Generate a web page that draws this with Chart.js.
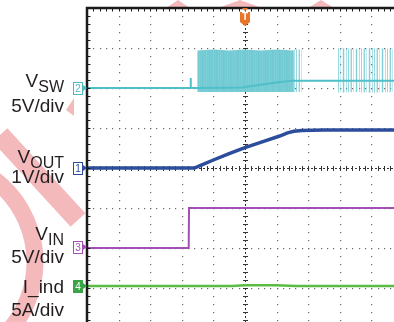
<!DOCTYPE html>
<html>
<head>
<meta charset="utf-8">
<script src="https://cdn.jsdelivr.net/npm/chart.js@4.4.1/dist/chart.umd.min.js"></script>
<style>
html, body { margin: 0; padding: 0; background: #fff; }
#wrap { position: relative; width: 394px; height: 322px; overflow: hidden; font-family: "Liberation Sans", Arial, sans-serif; }
#scope { position: absolute; left: 0; top: 0; }
.lbl { position: absolute; right: 330px; font-size: 19px; line-height: 19px; color: #231f20; white-space: nowrap; }
.lbl sub { font-size: 16px; vertical-align: baseline; position: relative; top: 5px; }
.ch { position: absolute; left: 73px; width: 8px; height: 11px; border: 1px solid currentColor; background: #fff;
      font-size: 10px; line-height: 11px; text-align: center; }
.ch::after { content: ''; position: absolute; left: 9px; top: 2px; border-left: 4px solid currentColor;
             border-top: 3.5px solid transparent; border-bottom: 3.5px solid transparent; }
.ch.fill { background: #3aa447; color: #fff; border-color: #3aa447; }
.ch.fill::after { border-left-color: #3aa447; }
#trig { position: absolute; left: 240px; top: 12px; width: 10px; height: 10px; background: #e8742a; color: #fff;
        font-size: 10px; font-weight: bold; line-height: 10px; text-align: center; }
#trig::after { content: ''; position: absolute; left: 0; top: 10px; border-top: 4px solid #e8742a;
               border-left: 5px solid transparent; border-right: 5px solid transparent; }
#trig::before { content: ''; position: absolute; left: 2px; top: -4px; border-top: 3px solid #e8742a;
                border-left: 3px solid transparent; border-right: 3px solid transparent; }
</style>
</head>
<body>
<div id="wrap">
  <canvas id="scope" width="394" height="322"></canvas>

  <div class="lbl" style="top:71px">V<sub>SW</sub></div>
  <div class="lbl" style="top:96px">5V/div</div>
  <div class="lbl" style="top:147px">V<sub>OUT</sub></div>
  <div class="lbl" style="top:167px">1V/div</div>
  <div class="lbl" style="top:224px">V<sub>IN</sub></div>
  <div class="lbl" style="top:247px">5V/div</div>
  <div class="lbl" style="top:277px">I_ind</div>
  <div class="lbl" style="top:300px">5A/div</div>

  <div class="ch" style="top:82px;color:#4fb8c2">2</div>
  <div class="ch" style="top:162px;color:#2c4c9c">1</div>
  <div class="ch" style="top:241px;color:#a24fb4">3</div>
  <div class="ch fill" style="top:280px">4</div>
  <div id="trig">T</div>
</div>

<script>
// time in screen divisions from the left edge, values in channel units
const vswTime = [0, 3.27, 3.28, 3.29, 3.5, 4.9, 5.5, 6.0, 6.5, 9.72];
const vswVolts = [0, 0, 1.25, 0, 0, 0.05, 0.4, 0.7, 0.9, 0.9];

const swDenseTime = [3.49, 4.0, 4.5, 5.0, 5.5, 6.0, 6.55];
const swDenseHigh = [4.7, 4.8, 4.7, 4.8, 4.7, 4.8, 4.7];
const swDenseLow = [-0.5, -0.5, -0.5, -0.5, -0.5, -0.5, -0.5];

const swTrailTime = [6.55, 6.85];
const swTrailHigh = [4.8, 4.8];
const swTrailLow = [-0.5, -0.5];

const swSparseTime = [7.95, 8.5, 9.0, 9.72];
const swSparseHigh = [5.0, 4.9, 5.0, 4.9];
const swSparseLow = [-0.6, -0.5, -0.6, -0.5];

const voutTime = [0, 3.4, 3.58, 4.0, 4.5, 5.0, 5.57, 6.1, 6.35, 6.55, 6.8, 7.5, 9.72];
const voutVolts = [0, 0, 0.06, 0.2, 0.36, 0.51, 0.66, 0.8, 0.88, 0.92, 0.94, 0.95, 0.95];

const vinTime = [0, 3.22, 3.23, 9.72];
const vinVolts = [0, 0, 5, 5];

const iindTime = [0, 4.6, 5.0, 6.0, 6.6, 9.72];
const iindAmps = [0, 0, 0.1, 0.1, 0, 0];

// channel offset (div) and units per div
const channels = {
  vsw: { offset: 2, perDiv: 5 },
  vout: { offset: 0, perDiv: 1 },
  vin: { offset: -2, perDiv: 5 },
  iind: { offset: -2.95, perDiv: 5 }
};

const toPoints = (t, v, ch) => t.map((tt, i) => ({ x: tt, y: ch.offset + v[i] / ch.perDiv }));

function stripes(cols) {
  const c = document.createElement('canvas');
  c.width = cols.length;
  c.height = 1;
  const g = c.getContext('2d');
  cols.forEach((col, i) => { g.fillStyle = col; g.fillRect(i, 0, 1, 1); });
  return g.createPattern(c, 'repeat');
}

const densePattern = stripes(['#74cbd4', '#79cdd5', '#72cad3', '#7fcfd7', '#74cbd4', '#77ccd5', '#70c9d2']);
const sparsePattern = stripes(['rgba(95,195,205,0.7)', 'rgba(0,0,0,0)', 'rgba(95,195,205,0.35)', 'rgba(0,0,0,0)',
  'rgba(95,195,205,0.15)', 'rgba(95,195,205,0.8)', 'rgba(95,195,205,0.2)', 'rgba(0,0,0,0)',
  'rgba(95,195,205,0.5)', 'rgba(0,0,0,0)', 'rgba(95,195,205,0.65)', 'rgba(0,0,0,0)', 'rgba(95,195,205,0.3)']);

function band(t, hi, lo, pattern, order) {
  return [
    { data: toPoints(t, hi, channels.vsw), borderWidth: 0, fill: '+1', backgroundColor: pattern, order: order },
    { data: toPoints(t, lo, channels.vsw), borderWidth: 0, fill: false, order: order }
  ];
}

const scopeGrid = {
  id: 'scopeGrid',
  beforeDraw(chart) {
    const ctx = chart.ctx, a = chart.chartArea;
    ctx.save();
    // faint watermark behind the screen
    ctx.fillStyle = ctx.strokeStyle = '#f4b9bb';
    ctx.lineWidth = 20;
    ctx.beginPath(); ctx.moveTo(0, 135); ctx.lineTo(78, 220); ctx.stroke();
    ctx.lineWidth = 17;
    ctx.beginPath(); ctx.arc(-69, 262, 104, -1.2, 1.2); ctx.stroke();
    ctx.beginPath(); ctx.moveTo(74, 98); ctx.lineTo(74, 116); ctx.lineTo(66, 110); ctx.closePath(); ctx.fill();
    [[166, 190], [218, 262], [308, 334]].forEach(([l, r]) => {
      ctx.beginPath(); ctx.moveTo(l, 8); ctx.lineTo((l + r) / 2, 0); ctx.lineTo(r, 8); ctx.closePath(); ctx.fill();
    });
    ctx.fillStyle = '#fff';
    ctx.fillRect(a.left, a.top, a.right - a.left, a.bottom - a.top);
    ctx.restore();
  },
  beforeDatasetsDraw(chart) {
    const { ctx, scales: { x, y } } = chart;
    ctx.save();
    ctx.fillStyle = '#6a6a6a';
    for (let gx = 1; gx <= 9; gx++) {
      if (gx === 5) continue;
      const px = Math.round(x.getPixelForValue(gx));
      for (let k = -20; k <= 20; k++) ctx.fillRect(px, Math.round(y.getPixelForValue(k / 5)), 1.2, 1.2);
    }
    for (let gy = -3; gy <= 3; gy++) {
      if (gy === 0) continue;
      const py = Math.round(y.getPixelForValue(gy));
      for (let k = 0; k <= 50; k++) ctx.fillRect(Math.round(x.getPixelForValue(k / 5)), py, 1.2, 1.2);
    }
    // centre cross
    const cx = Math.round(x.getPixelForValue(5)) + 0.5, cy = Math.round(y.getPixelForValue(0)) + 0.5;
    ctx.strokeStyle = '#333';
    ctx.lineWidth = 1;
    ctx.setLineDash([2, 2]);
    ctx.beginPath();
    ctx.moveTo(cx, chart.chartArea.top); ctx.lineTo(cx, chart.chartArea.bottom);
    ctx.moveTo(chart.chartArea.left, cy); ctx.lineTo(chart.chartArea.right, cy);
    ctx.stroke();
    ctx.setLineDash([]);
    ctx.beginPath();
    for (let k = -20; k <= 20; k++) {
      const py = Math.round(y.getPixelForValue(k / 5)) + 0.5;
      ctx.moveTo(cx - 2.5, py); ctx.lineTo(cx + 2.5, py);
    }
    for (let k = 0; k <= 50; k++) {
      const px = Math.round(x.getPixelForValue(k / 5)) + 0.5;
      ctx.moveTo(px, cy - 2.5); ctx.lineTo(px, cy + 2.5);
    }
    ctx.stroke();
    ctx.restore();
  },
  afterDatasetsDraw(chart) {
    const { ctx, chartArea: a, scales: { x, y } } = chart;
    ctx.save();
    ctx.strokeStyle = '#1a1a1a';
    ctx.lineWidth = 1;
    ctx.beginPath();
    for (let k = 1; k <= 50; k++) {
      const px = Math.round(x.getPixelForValue(k / 5)) + 0.5;
      ctx.moveTo(px, a.top); ctx.lineTo(px, a.top + 3.5);
    }
    for (let k = -20; k < 20; k++) {
      const py = Math.round(y.getPixelForValue(k / 5)) + 0.5;
      ctx.moveTo(a.left, py); ctx.lineTo(a.left + 3.5, py);
    }
    ctx.stroke();
    ctx.lineWidth = 2.5;
    ctx.beginPath();
    ctx.moveTo(a.left, a.bottom); ctx.lineTo(a.left, a.top); ctx.lineTo(a.right, a.top);
    ctx.stroke();
    ctx.restore();
  }
};

new Chart(document.getElementById('scope'), {
  type: 'line',
  data: {
    datasets: [
      { data: toPoints(voutTime, voutVolts, channels.vout), borderColor: '#2c4c9c', borderWidth: 3.5, order: 0 },
      { data: toPoints(vinTime, vinVolts, channels.vin), borderColor: '#a24fb4', borderWidth: 2, order: 1 },
      { data: toPoints(iindTime, iindAmps, channels.iind), borderColor: '#5cbb45', borderWidth: 2.5, order: 2 },
      { data: toPoints(vswTime, vswVolts, channels.vsw), borderColor: '#4fbfc9', borderWidth: 2, order: 3 },
      ...band(swDenseTime, swDenseHigh, swDenseLow, densePattern, 4),
      ...band(swTrailTime, swTrailHigh, swTrailLow, sparsePattern, 5),
      ...band(swSparseTime, swSparseHigh, swSparseLow, sparsePattern, 6)
    ]
  },
  options: {
    responsive: false,
    animation: false,
    layout: { padding: { left: 87, top: 8, right: 0, bottom: 0 } },
    elements: { point: { radius: 0 }, line: { tension: 0 } },
    plugins: { legend: { display: false }, tooltip: { enabled: false } },
    scales: {
      x: { type: 'linear', min: 0, max: 9.72, display: false },
      y: { min: -3.85, max: 4, display: false }
    }
  },
  plugins: [scopeGrid]
});
</script>
</body>
</html>
